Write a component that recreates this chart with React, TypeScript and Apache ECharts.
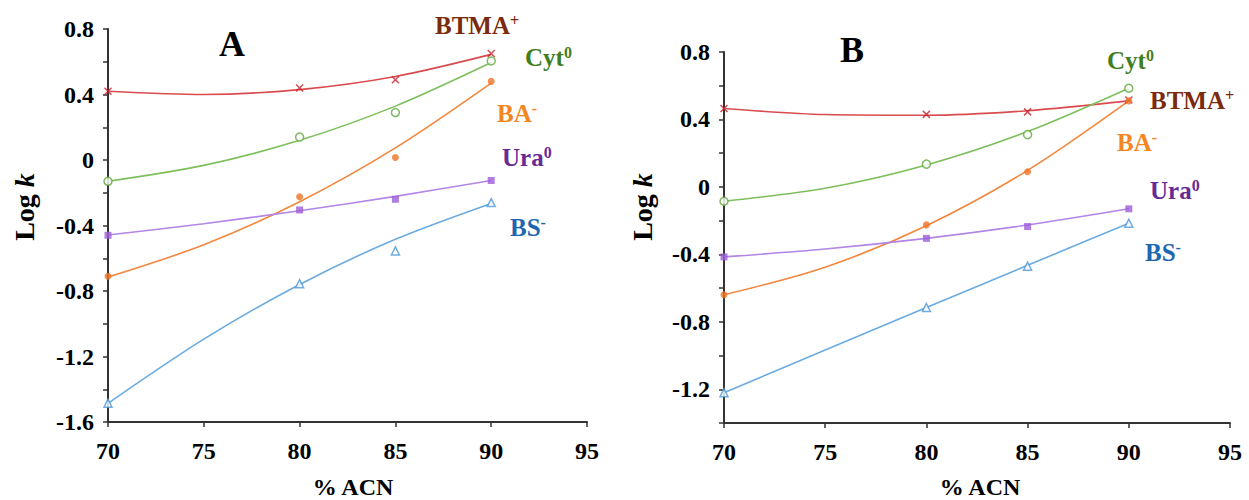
import React, { useEffect, useRef } from "react";
import * as echarts from "echarts";

// Measured points (% ACN)
const X_PTS = [70, 80, 85, 90];
const X_FIT = [70, 75, 80, 85, 90];

// Panel A – measured log k
const A_BTMA = [0.42, 0.44, 0.49, 0.65];
const A_CYT = [-0.13, 0.14, 0.29, 0.605];
const A_BA = [-0.71, -0.225, 0.015, 0.48];
const A_URA = [-0.46, -0.305, -0.24, -0.125];
const A_BS = [-1.485, -0.755, -0.555, -0.26];
// Panel A – trend curves
const A_BTMA_FIT = [0.42, 0.4, 0.43, 0.51, 0.645];
const A_CYT_FIT = [-0.13, -0.033, 0.12, 0.329, 0.595];
const A_BA_FIT = [-0.715, -0.518, -0.255, 0.074, 0.47];
const A_URA_FIT = [-0.458, -0.389, -0.31, -0.222, -0.125];
const A_BS_FIT = [-1.486, -1.094, -0.76, -0.484, -0.265];

// Panel B – measured log k
const B_BTMA = [0.465, 0.43, 0.445, 0.515];
const B_CYT = [-0.085, 0.135, 0.31, 0.585];
const B_BA = [-0.64, -0.225, 0.09, 0.51];
const B_URA = [-0.415, -0.305, -0.235, -0.13];
const B_BS = [-1.22, -0.715, -0.47, -0.215];
// Panel B – trend curves
const B_BTMA_FIT = [0.465, 0.429, 0.425, 0.452, 0.51];
const B_CYT_FIT = [-0.085, -0.008, 0.13, 0.328, 0.585];
const B_BA_FIT = [-0.64, -0.476, -0.23, 0.098, 0.51];
const B_URA_FIT = [-0.415, -0.368, -0.305, -0.226, -0.13];
const B_BS_FIT = [-1.22, -0.967, -0.715, -0.465, -0.215];

const X_MIN = 70;
const X_MAX = 95;
const X_STEP = 5;
const A_Y_MIN = -1.6;
const B_Y_MIN = -1.4;
const Y_MAX = 0.8;
const Y_STEP = 0.2;

const FONT = "'Liberation Serif', 'Times New Roman', serif";

type Compound = {
  key: string;
  line: string;
  marker: string;
  symbol: string;
  hollow: boolean;
  size: number;
};

const COMPOUNDS: Compound[] = [
  { key: "BTMA", line: "#DA4B50", marker: "#C8202A", symbol: "path://M0,0L10,10M10,0L0,10", hollow: true, size: 7 },
  { key: "Cyt", line: "#7CBF5B", marker: "#5EA83C", symbol: "circle", hollow: true, size: 8 },
  { key: "BA", line: "#F2873E", marker: "#EE7326", symbol: "circle", hollow: false, size: 7 },
  { key: "Ura", line: "#B285E6", marker: "#9C5ED8", symbol: "rect", hollow: false, size: 7 },
  { key: "BS", line: "#6AABE2", marker: "#4E97D8", symbol: "triangle", hollow: true, size: 8 },
];

const PANEL_DATA = [
  {
    pts: [A_BTMA, A_CYT, A_BA, A_URA, A_BS],
    fit: [A_BTMA_FIT, A_CYT_FIT, A_BA_FIT, A_URA_FIT, A_BS_FIT],
  },
  {
    pts: [B_BTMA, B_CYT, B_BA, B_URA, B_BS],
    fit: [B_BTMA_FIT, B_CYT_FIT, B_BA_FIT, B_URA_FIT, B_BS_FIT],
  },
];

const LABEL_COLORS: Record<string, string> = {
  BTMA: "#7B2B0D",
  Cyt: "#3F7F22",
  BA: "#F5861F",
  Ura: "#6A2A96",
  BS: "#1E66B0",
};

const LABEL_SUP: Record<string, string> = {
  BTMA: "+",
  Cyt: "0",
  BA: "-",
  Ura: "0",
  BS: "-",
};

// label anchor positions (left, vertical middle) per panel
const LABEL_POS = [
  { BTMA: [435, 25], Cyt: [525, 57], BA: [497, 113], Ura: [502, 157], BS: [510, 227] },
  { BTMA: [1150, 100], Cyt: [1107, 60], BA: [1117, 142], Ura: [1150, 190], BS: [1145, 252] },
];

function fmtY(v: number): string {
  const r = Math.round(v * 10);
  return r % 4 === 0 ? String(r / 10) : "";
}

function speciesLabel(key: string, x: number, y: number) {
  const color = LABEL_COLORS[key];
  return {
    type: "text",
    x,
    y,
    style: {
      text: "{b|" + key + "}{s|" + LABEL_SUP[key] + "}",
      align: "left",
      verticalAlign: "middle",
      rich: {
        b: { fontFamily: FONT, fontWeight: "bold", fontSize: 25, fill: color, color, lineHeight: 26 },
        s: { fontFamily: FONT, fontWeight: "bold", fontSize: 16, fill: color, color, verticalAlign: "top", lineHeight: 16 },
      },
    },
  };
}

function App() {
  const ref = useRef<HTMLDivElement>(null);

  useEffect(() => {
    if (!ref.current) return;
    const chart = echarts.init(ref.current, undefined, { renderer: "svg" });

    const grids = [
      { left: 108, top: 29, width: 479, height: 393 },
      { left: 724, top: 52, width: 506, height: 371 },
    ];

    const axisCommon = {
      axisLine: { show: true, onZero: false, lineStyle: { color: "#333", width: 2 } },
      axisTick: { show: true, inside: false, length: 5, lineStyle: { color: "#333", width: 1.5 } },
      splitLine: { show: false },
    };

    const xAxes = grids.map((_, i) => ({
      type: "value",
      gridIndex: i,
      min: X_MIN,
      max: X_MAX,
      interval: X_STEP,
      ...axisCommon,
      axisLabel: {
        margin: 17,
        fontFamily: FONT,
        fontWeight: "bold",
        fontSize: 24,
        color: "#000",
      },
    }));

    const yAxes = grids.map((_, i) => ({
      type: "value",
      gridIndex: i,
      min: i === 0 ? A_Y_MIN : B_Y_MIN,
      max: Y_MAX,
      interval: Y_STEP,
      ...axisCommon,
      axisLabel: {
        margin: 14,
        fontFamily: FONT,
        fontWeight: "bold",
        fontSize: 24,
        color: "#000",
        formatter: fmtY,
      },
    }));

    const series: any[] = [];
    PANEL_DATA.forEach((panel, p) => {
      COMPOUNDS.forEach((c, k) => {
        series.push({
          type: "line",
          name: c.key + (p === 0 ? " A fit" : " B fit"),
          xAxisIndex: p,
          yAxisIndex: p,
          data: X_FIT.map((x, i) => [x, panel.fit[k][i]]),
          smooth: 0.3,
          showSymbol: false,
          symbol: "none",
          lineStyle: { color: c.line, width: 1.6 },
          z: 2,
        });
        series.push({
          type: "scatter",
          name: c.key + (p === 0 ? " A" : " B"),
          xAxisIndex: p,
          yAxisIndex: p,
          data: X_PTS.map((x, i) => [x, panel.pts[k][i]]),
          symbol: c.symbol,
          symbolSize: c.size,
          itemStyle: c.hollow
            ? { color: c.symbol.startsWith("path") ? "rgba(0,0,0,0)" : "#fff", borderColor: c.marker, borderWidth: 1.5 }
            : { color: c.marker },
          z: 3,
        });
      });
    });

    const graphics: any[] = [];
    // panel letters
    graphics.push({
      type: "text",
      x: 232,
      y: 44,
      style: { text: "A", fontFamily: FONT, fontWeight: "bold", fontSize: 36, fill: "#000", align: "center", verticalAlign: "middle" },
    });
    graphics.push({
      type: "text",
      x: 852,
      y: 50,
      style: { text: "B", fontFamily: FONT, fontWeight: "bold", fontSize: 36, fill: "#000", align: "center", verticalAlign: "middle" },
    });
    // axis titles
    [24, 642].forEach((x) => {
      graphics.push({
        type: "text",
        x,
        y: 207,
        rotation: Math.PI / 2,
        style: {
          text: "{a|Log }{k|k}",
          align: "center",
          verticalAlign: "middle",
          rich: {
            a: { fontFamily: FONT, fontWeight: "bold", fontSize: 28, fill: "#000", color: "#000" },
            k: { fontFamily: FONT, fontWeight: "bold", fontStyle: "italic", fontSize: 28, fill: "#000", color: "#000" },
          },
        },
      });
    });
    [353, 980].forEach((x) => {
      graphics.push({
        type: "text",
        x,
        y: 487,
        style: { text: "% ACN", fontFamily: FONT, fontWeight: "bold", fontSize: 24, fill: "#000", align: "center", verticalAlign: "middle" },
      });
    });
    // species labels
    LABEL_POS.forEach((pos: any) => {
      Object.keys(pos).forEach((key) => {
        graphics.push(speciesLabel(key, pos[key][0], pos[key][1]));
      });
    });

    chart.setOption({
      animation: false,
      backgroundColor: "#fff",
      grid: grids,
      xAxis: xAxes,
      yAxis: yAxes,
      series,
      graphic: { elements: graphics },
    });

    return () => chart.dispose();
  }, []);

  return (
    <div
      ref={ref}
      style={{ position: "absolute", left: 0, top: 0, width: 1249, height: 500 }}
    />
  );
}

export default App;
